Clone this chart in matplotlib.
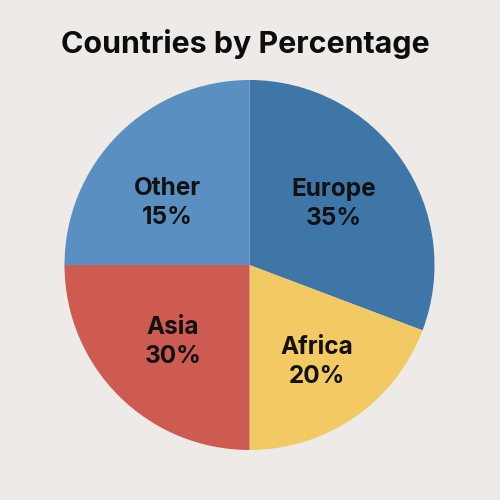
import matplotlib
matplotlib.use("Agg")
import matplotlib.pyplot as plt

# Data
categories = ["Europe", "Africa", "Asia", "Other"]
slice_shares = [30.75, 19.25, 25.0, 25.0]       # angular shares as drawn
label_pcts = ["35%", "20%", "30%", "15%"]        # percentages as printed
colors = ["#3f76a8", "#f2c962", "#cd5b51", "#5a8fc1"]

bg = "#edeae7"
plt.rcParams['font.family'] = ['Inter', 'DejaVu Sans']

fig = plt.figure(figsize=(5, 5), dpi=100, facecolor=bg)
r = 0.37
cx, cy = 0.499, 0.47
ax = fig.add_axes([cx - r, cy - r, 2 * r, 2 * r])
ax.set_facecolor(bg)
ax.pie(slice_shares, colors=colors, startangle=90, counterclock=False,
       radius=1.0, wedgeprops=dict(linewidth=0))
ax.set_xlim(-1, 1)
ax.set_ylim(-1, 1)
ax.set_aspect('equal')
ax.axis('off')

# label offsets (in pie radii) for each category
label_xy = [(0.455, 0.33), (0.365, -0.525), (-0.415, -0.415), (-0.443, 0.335)]
for cat, pct, (lx, ly) in zip(categories, label_pcts, label_xy):
    ax.text(lx, ly, f"{cat}\n{pct}", ha='center', va='center',
            fontsize=17.5, fontweight='bold', color='#111111',
            linespacing=1.35)

fig.text(0.49, 1 - 44 / 500, "Countries by Percentage", ha='center', va='center',
         fontsize=21.9, fontweight='bold', color='#0d0d0d')

fig.savefig("out.png", dpi=100, facecolor=bg)
